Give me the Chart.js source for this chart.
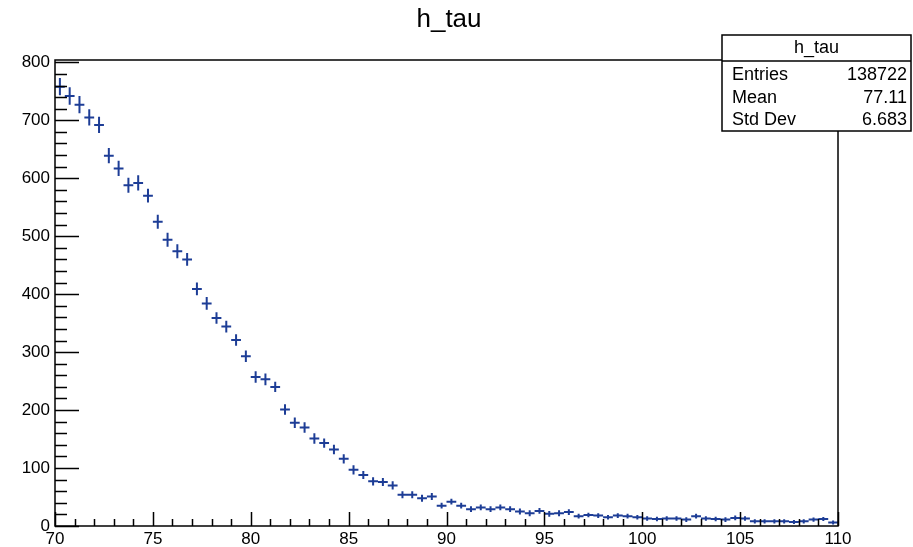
<!DOCTYPE html>
<html><head><meta charset="utf-8">
<script src="https://cdn.jsdelivr.net/npm/chart.js@4.4.0/dist/chart.umd.min.js"></script>
<style>html,body{margin:0;padding:0;background:#fff;}#wrap{width:913px;height:547px;position:relative;}</style>
</head><body><div id="wrap"><canvas id="c"></canvas></div>
<script>
const histTitle = "h_tau";
const binWidth = 0.5;
const binCenters = [70.25,70.75,71.25,71.75,72.25,72.75,73.25,73.75,74.25,74.75,
  75.25,75.75,76.25,76.75,77.25,77.75,78.25,78.75,79.25,79.75,
  80.25,80.75,81.25,81.75,82.25,82.75,83.25,83.75,84.25,84.75,
  85.25,85.75,86.25,86.75,87.25,87.75,88.25,88.75,89.25,89.75,
  90.25,90.75,91.25,91.75,92.25,92.75,93.25,93.75,94.25,94.75,
  95.25,95.75,96.25,96.75,97.25,97.75,98.25,98.75,99.25,99.75,
  100.25,100.75,101.25,101.75,102.25,102.75,103.25,103.75,104.25,104.75,
  105.25,105.75,106.25,106.75,107.25,107.75,108.25,108.75,109.25,109.75];
const binContents = [758,742,727,705,692,639,617,588,592,570,
  525,494,474,460,409,384,359,344,321,293,
  257,253,240,201,178,170,151,143,132,116,
  97,88,77,76,70,54,54,48,51,35,
  42,35,29,32,29,32,29,25,22,26,
  21,22,24,17,19,18,15,18,17,15,
  13,12,13,13,11,17,13,12,11,14,
  13,8,8,8,8,7,8,11,12,6];
const binErrors = [15,15,15,14,14,13,13,13,13,12,
  12,12,12,11,11,11,10,10,10,10,
  10,10,9,9,9,9,9,8,8,8,
  8,7,7,7,7,6,6,6,6,5,
  5,5,5,5,5,5,5,5,5,5,
  5,5,5,4,4,4,4,4,4,4,
  4,4,4,4,4,4,4,4,4,4,
  4,3.5,3.5,3.5,3.5,3.5,3.5,3.5,3.5,3.5];
const xTickLabels = [70,75,80,85,90,95,100,105,110];
const yTickLabels = [0,100,200,300,400,500,600,700,800];
const statLabels = ["Entries","Mean","Std Dev"];
const statValues = ["138722","77.11","6.683"];

const markerColor = '#1d3d96';
const FONT = '"Liberation Sans", Arial, sans-serif';

const errorBarPlugin = {
  id: 'errbars',
  afterDatasetsDraw(chart) {
    const {ctx, scales:{x, y}} = chart;
    ctx.save();
    ctx.strokeStyle = markerColor;
    ctx.lineWidth = 2;
    ctx.beginPath();
    binCenters.forEach((c, i) => {
      const v = binContents[i], e = binErrors[i];
      const px = x.getPixelForValue(c), py = y.getPixelForValue(v);
      ctx.moveTo(x.getPixelForValue(c - binWidth/2), py);
      ctx.lineTo(x.getPixelForValue(c + binWidth/2), py);
      ctx.moveTo(px, y.getPixelForValue(v - e));
      ctx.lineTo(px, y.getPixelForValue(v + e));
    });
    ctx.stroke();
    ctx.restore();
  }
};

const framePlugin = {
  id: 'frame',
  afterDraw(chart) {
    const {ctx, chartArea:a, scales:{x, y}} = chart;
    ctx.save();
    ctx.strokeStyle = '#000';
    ctx.lineWidth = 1.5;
    ctx.strokeRect(a.left, a.top, a.right - a.left, a.bottom - a.top);
    ctx.beginPath();
    for (let v = 0; v <= 800; v += 20) {
      const py = Math.round(y.getPixelForValue(v)) + 0.5;
      const len = (v % 100 === 0) ? 24 : 12;
      ctx.moveTo(a.left, py); ctx.lineTo(a.left + len, py);
    }
    for (let v = 70; v <= 110; v += 1) {
      const px = Math.round(x.getPixelForValue(v)) + 0.5;
      const len = (v % 5 === 0) ? 14 : 7;
      ctx.moveTo(px, a.bottom); ctx.lineTo(px, a.bottom - len);
    }
    ctx.stroke();

    // title
    ctx.fillStyle = '#000';
    ctx.font = '26px ' + FONT;
    ctx.textAlign = 'center';
    ctx.textBaseline = 'middle';
    ctx.fillText(histTitle, 449, 20);

    // stats box
    const bx = 722, by = 35, bw = 189, bh = 96;
    ctx.fillStyle = '#fff';
    ctx.fillRect(bx, by, bw, bh);
    ctx.lineWidth = 1.5;
    ctx.strokeRect(bx, by, bw, bh);
    ctx.beginPath();
    ctx.moveTo(bx, 61); ctx.lineTo(bx + bw, 61);
    ctx.stroke();
    ctx.fillStyle = '#000';
    ctx.font = '18px ' + FONT;
    ctx.textAlign = 'center';
    ctx.fillText(histTitle, bx + bw/2, 48);
    const rows = [75, 98, 120];
    statLabels.forEach((s, i) => {
      ctx.textAlign = 'left';
      ctx.fillText(s, bx + 10, rows[i]);
      ctx.textAlign = 'right';
      ctx.fillText(statValues[i], bx + bw - 4, rows[i]);
    });
    ctx.restore();
  }
};

new Chart(document.getElementById('c'), {
  type: 'scatter',
  data: {
    datasets: [{
      label: histTitle,
      data: binCenters.map((c, i) => ({x: c, y: binContents[i]})),
      pointRadius: 0,
      showLine: false
    }]
  },
  options: {
    responsive: true,
    maintainAspectRatio: false,
    animation: false,
    layout: { padding: { left: 0, right: 75, top: 60, bottom: 0 } },
    plugins: { legend: { display: false }, tooltip: { enabled: false }, title: { display: false } },
    scales: {
      x: {
        type: 'linear', min: 70, max: 110,
        grid: { display: false, drawTicks: false },
        border: { display: false },
        afterFit(s) { s.height = 21; },
        afterBuildTicks(s) { s.ticks = xTickLabels.map(v => ({value: v})); },
        ticks: { font: { family: FONT, size: 17 }, color: '#000', padding: 3, maxRotation: 0, autoSkip: false }
      },
      y: {
        type: 'linear', min: 0, max: 804,
        grid: { display: false, drawTicks: false },
        border: { display: false },
        afterFit(s) { s.width = 55; },
        afterBuildTicks(s) { s.ticks = yTickLabels.map(v => ({value: v})); },
        ticks: { font: { family: FONT, size: 17 }, color: '#000', padding: 5, autoSkip: false }
      }
    }
  },
  plugins: [errorBarPlugin, framePlugin]
});
</script></body></html>
